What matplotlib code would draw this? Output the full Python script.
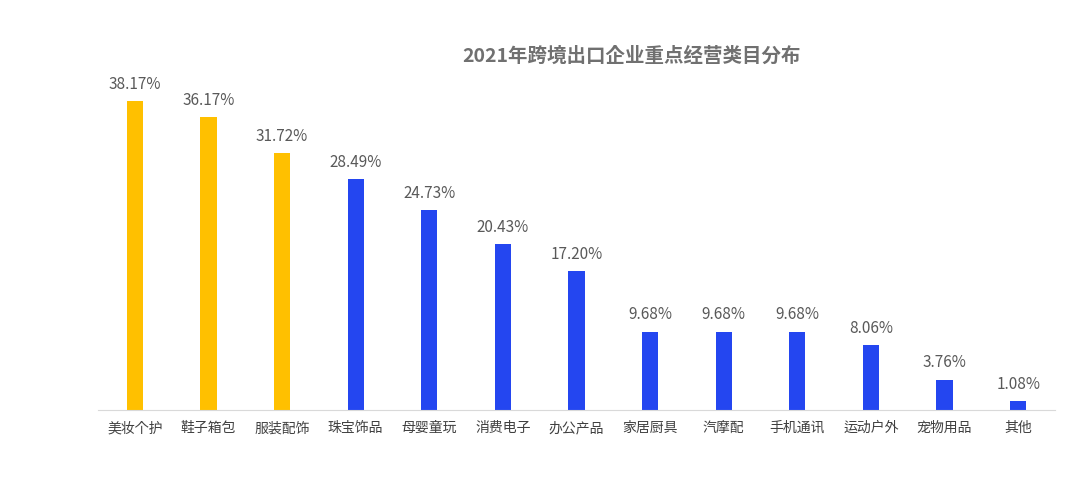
import matplotlib
matplotlib.use("Agg")
import matplotlib.pyplot as plt
from matplotlib import font_manager as fm

categories = ["美妆个护","鞋子箱包","服装配饰","珠宝饰品","母婴童玩","消费电子","办公产品","家居厨具","汽摩配","手机通讯","运动户外","宠物用品","其他"]
values = [38.17,36.17,31.72,28.49,24.73,20.43,17.20,9.68,9.68,9.68,8.06,3.76,1.08]
colors = ["#FFC000"]*3 + ["#2446F0"]*10

cjk = None
for f in fm.findSystemFonts():
    n = f.lower()
    if "cjk" in n and ("sc" in n or "ttc" in n or "otc" in n):
        try:
            fm.fontManager.addfont(f)
            if cjk is None:
                cjk = fm.FontProperties(fname=f).get_name()
        except Exception:
            pass
fam = [cjk] if cjk else []
plt.rcParams["font.family"] = "sans-serif"
plt.rcParams["font.sans-serif"] = fam + ["Noto Sans CJK SC", "Noto Sans CJK JP", "DejaVu Sans"]

fig = plt.figure(figsize=(10.8,5.04), dpi=100)
ax = fig.add_axes([98/1080, 94/504, 957/1080, 350/504])
x = range(len(categories))
ax.bar(x, values, width=0.22, color=colors)
for i, v in zip(x, values):
    ax.text(i, v + 1.0, f"{v:.2f}%", ha="center", va="bottom", fontsize=11, color="#595959")
ax.set_xlim(-0.5, 12.5)
ax.set_ylim(0, 43.2)
ax.set_xticks(list(x))
ax.set_xticklabels(categories, fontsize=10, color="#404040")
ax.tick_params(axis="x", length=0, pad=8)
ax.set_yticks([])
for s in ["top","right","left"]:
    ax.spines[s].set_visible(False)
ax.spines["bottom"].set_color("#D9D9D9")
fig.text(632/1080, 1-56/504, "2021年跨境出口企业重点经营类目分布", ha="center", va="center",
         fontsize=14, fontweight="bold", color="#707070")
fig.savefig("out.png", dpi=100)
